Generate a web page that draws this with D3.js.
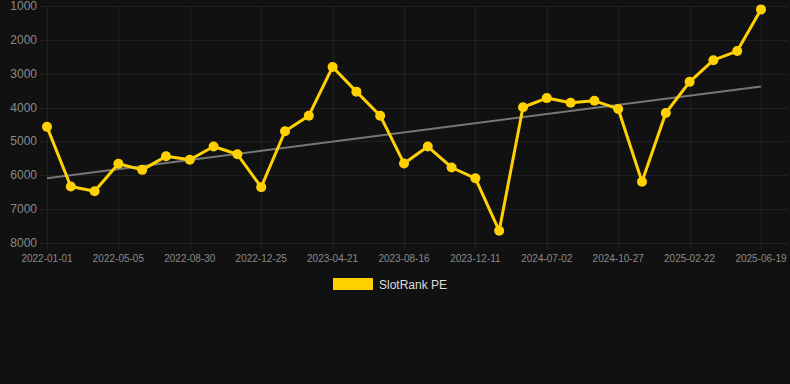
<!DOCTYPE html>
<html>
<head>
<meta charset="utf-8">
<script src="https://cdn.jsdelivr.net/npm/d3@7"></script>
<style>
  body { margin: 0; background: #111111; }
  svg { display: block; font-family: "Liberation Sans", Arial, sans-serif; }
</style>
</head>
<body>
<svg width="790" height="384"></svg>
<script>
// dates of each sample (only every 3rd one is labelled on the axis)
var dates = [
  "2022-01-01", "2022-02-11", "2022-03-24", "2022-05-05", "2022-06-13", "2022-07-22",
  "2022-08-30", "2022-10-08", "2022-11-16", "2022-12-25", "2023-02-02", "2023-03-13",
  "2023-04-21", "2023-05-30", "2023-07-08", "2023-08-16", "2023-09-24", "2023-11-02",
  "2023-12-11", "2024-02-19", "2024-04-30", "2024-07-02", "2024-08-10", "2024-09-18",
  "2024-10-27", "2024-12-05", "2025-01-14", "2025-02-22", "2025-04-02", "2025-05-11",
  "2025-06-19"
];
var rankPE = [
  4570, 6330, 6470, 5660, 5840, 5440, 5540, 5150, 5380, 6350, 4700, 4240,
  2800, 3530, 4240, 5650, 5150, 5770, 6090, 7640, 3990, 3720, 3860, 3800,
  4040, 6190, 4160, 3240, 2600, 2330, 1100
];
// trend line values at the first and last date
var trendEnds = [6090, 3380];
var yTicks = [1000, 2000, 3000, 4000, 5000, 6000, 7000, 8000];

var svg = d3.select("svg");
var plotL = 47, plotR = 761, plotT = 6, plotB = 243;

var x = d3.scalePoint().domain(dates).range([plotL, plotR]);
var y = d3.scaleLinear().domain([1000, 8000]).range([plotT, plotB]); // reversed rank axis

var grid = svg.append("g").attr("stroke", "rgba(255,255,255,0.06)").attr("stroke-width", 1);

// horizontal grid lines + y labels
yTicks.forEach(function (t) {
  grid.append("line")
    .attr("x1", plotL - 7).attr("x2", 788)
    .attr("y1", Math.round(y(t)) + 0.5).attr("y2", Math.round(y(t)) + 0.5);
  svg.append("text")
    .attr("x", 37).attr("y", y(t) + 4)
    .attr("text-anchor", "end")
    .attr("fill", "#8a8a8a")
    .style("font-size", "12px")
    .text(t);
});

// vertical grid lines + x labels, every third date
var shown = dates.filter(function (d, i) { return i % 3 === 0; });
shown.forEach(function (d) {
  grid.append("line")
    .attr("x1", Math.round(x(d)) + 0.5).attr("x2", Math.round(x(d)) + 0.5)
    .attr("y1", plotT).attr("y2", plotB + 7);
  svg.append("text")
    .attr("x", x(d)).attr("y", 262)
    .attr("text-anchor", "middle")
    .attr("fill", "#8a8a8a")
    .style("font-size", "10px")
    .text(d);
});

// trend line
svg.append("line")
  .attr("x1", x(dates[0])).attr("y1", y(trendEnds[0]))
  .attr("x2", x(dates[dates.length - 1])).attr("y2", y(trendEnds[1]))
  .attr("stroke", "#777777")
  .attr("stroke-width", 2);

// main series
var line = d3.line()
  .x(function (d, i) { return x(dates[i]); })
  .y(function (d) { return y(d); });

svg.append("path")
  .datum(rankPE)
  .attr("d", line)
  .attr("fill", "none")
  .attr("stroke", "#FFD100")
  .attr("stroke-width", 3)
  .attr("stroke-linejoin", "round");

svg.append("g")
  .selectAll("circle")
  .data(rankPE)
  .enter()
  .append("circle")
  .attr("cx", function (d, i) { return x(dates[i]); })
  .attr("cy", function (d) { return y(d); })
  .attr("r", 5)
  .attr("fill", "#FFD100");

// legend
svg.append("rect")
  .attr("x", 333).attr("y", 278)
  .attr("width", 40).attr("height", 12)
  .attr("fill", "#FFD100");
svg.append("text")
  .attr("x", 379).attr("y", 288.5)
  .attr("fill", "#dddddd")
  .style("font-size", "12px")
  .text("SlotRank PE");
</script>
</body>
</html>
